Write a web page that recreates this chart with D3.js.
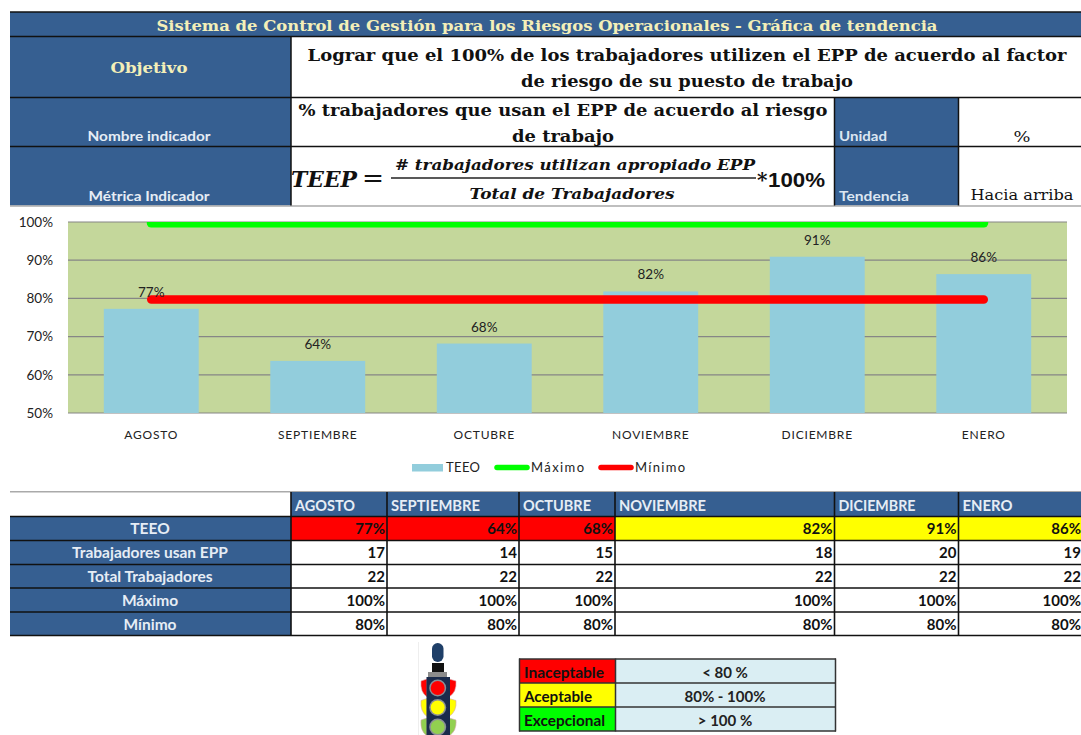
<!DOCTYPE html>
<html><head><meta charset="utf-8">
<script src="https://cdnjs.cloudflare.com/ajax/libs/d3/7.8.5/d3.min.js"></script>
<style>html,body{margin:0;padding:0;background:#fff;overflow:hidden}svg{display:block}</style>
</head><body><div id="c"></div>
<script>
// ---- data ----
const months = ["AGOSTO","SEPTIEMBRE","OCTUBRE","NOVIEMBRE","DICIEMBRE","ENERO"];
const teeo = [0.7727,0.6364,0.6818,0.8182,0.9091,0.8636];
const usan = [17,14,15,18,20,19];
const total = [22,22,22,22,22,22];
const maximo = [1,1,1,1,1,1];
const minimo = [0.8,0.8,0.8,0.8,0.8,0.8];
const yTicks = [0.5,0.6,0.7,0.8,0.9,1];
const rowLabels = ["TEEO","Trabajadores usan EPP","Total Trabajadores","Máximo","Mínimo"];
const legendItems = ["TEEO","Máximo","Mínimo"];
const scaleLabels = ["Inaceptable","Aceptable","Excepcional"];
const scaleRanges = ["< 80 %","80% - 100%","> 100 %"];
const titleText = "Sistema de Control de Gestión para los Riesgos Operacionales - Gráfica de tendencia";

// ---- styles ----
const BLUE="#365f91", CREAM="#f4efb8", SERIF="'DejaVu Serif',serif", SANS="Lato,'Open Sans',sans-serif";
const svg=d3.select("#c").append("svg").attr("width",1081).attr("height",735);
const pct=d3.format(".0%");

function T(x,y,s,o={}){
  const t=svg.append("text").attr("x",x).attr("y",y).text(s)
   .attr("font-family",o.f||SANS).attr("font-size",o.s||14)
   .attr("font-weight",o.w||"normal").attr("fill",o.c||"#111")
   .attr("text-anchor",o.a||"middle");
  if(o.i)t.attr("font-style","italic");
  if(o.L)t.attr("textLength",o.L).attr("lengthAdjust",o.adj||"spacingAndGlyphs");
  return t;
}
function R(x0,y0,x1,y1,fill){return svg.append("rect").attr("x",x0).attr("y",y0).attr("width",x1-x0).attr("height",y1-y0).attr("fill",fill);}
function HL(x0,x1,y,c="#111",w=1.5){svg.append("line").attr("x1",x0).attr("x2",x1).attr("y1",y).attr("y2",y).attr("stroke",c).attr("stroke-width",w);}
function VL(x,y0,y1,c="#111",w=1.5){svg.append("line").attr("x1",x).attr("x2",x).attr("y1",y0).attr("y2",y1).attr("stroke",c).attr("stroke-width",w);}

// ---- header block ----
R(10,12,1081,36.5,BLUE);
R(10,36.5,291,205.5,BLUE);
R(834,97.5,958,205.5,BLUE);
HL(10,1081,12);HL(10,1081,36.5);HL(10,1081,97.5);HL(10,1081,146.5);
HL(10,1081,206,"#aaa",1.5);
VL(291,36.5,205.5);VL(834.5,97.5,205.5);VL(958.5,97.5,205.5);
T(547,31,titleText,{f:SERIF,s:14,w:"bold",c:CREAM,L:781});
T(149,73,"Objetivo",{f:SERIF,s:14,w:"bold",c:CREAM,L:77});
T(687,61,"Lograr que el 100% de los trabajadores utilizen el EPP de acuerdo al factor",{f:SERIF,s:17,w:"bold",L:759});
T(687,87,"de riesgo de su puesto de trabajo",{f:SERIF,s:17,w:"bold",L:332});
T(563,116,"% trabajadores que usan el EPP de acuerdo al riesgo",{f:SERIF,s:17,w:"bold",L:529});
T(563,142,"de trabajo",{f:SERIF,s:17,w:"bold",L:102});
T(149,141,"Nombre indicador",{s:14,w:"bold",c:"#e6edf5",L:123});
T(149,201,"Métrica Indicador",{s:14,w:"bold",c:"#e6edf5",L:121});
T(839,141,"Unidad",{s:14,w:"bold",c:"#dce6f1",a:"start",L:48});
T(839,201,"Tendencia",{s:14,w:"bold",c:"#dce6f1",a:"start",L:70});
T(1022,142,"%",{f:SERIF,s:15,L:17});
T(1022,200,"Hacia arriba",{f:SERIF,s:15,L:103});
T(291,187,"TEEP",{f:SERIF,s:23,w:"bold",i:1,a:"start",L:66});
T(373,187,"=",{f:SERIF,s:26,L:22});
T(575,170,"# trabajadores utilizan apropiado EPP",{f:SERIF,s:14,w:"bold",i:1,L:360});
HL(391,756,178,"#222",1.5);
T(572,199,"Total de Trabajadores",{f:SERIF,s:14,w:"bold",i:1,L:205});
T(757,187,"*",{f:SERIF,s:20,w:"bold",a:"start"});
T(768,187,"100%",{f:"'Liberation Sans',sans-serif",s:21,w:"bold",a:"start",L:57});

// ---- chart ----
const x=d3.scaleBand().domain(months).range([68,1067]).paddingInner(0.43).paddingOuter(0.215);
const y=d3.scaleLinear().domain([0.5,1]).range([413,222]);
const g=svg.append("g");
g.append("rect").attr("x",68).attr("y",y(1)).attr("width",999).attr("height",y(.5)-y(1)).attr("fill","#c4d79b");
g.selectAll("line.grid").data(yTicks).join("line").attr("class","grid")
 .attr("x1",68).attr("x2",1067).attr("y1",d=>y(d)).attr("y2",d=>y(d))
 .attr("stroke","#868686").attr("stroke-width",1.2);
g.selectAll("rect.bar").data(teeo).join("rect").attr("class","bar")
 .attr("x",(d,i)=>x(months[i])).attr("width",x.bandwidth())
 .attr("y",d=>y(d)).attr("height",d=>y(.5)-y(d)).attr("fill","#92cddc");
svg.append("clipPath").attr("id","pc").append("rect").attr("x",0).attr("y",y(1)).attr("width",1081).attr("height",300);
const cx=m=>x(m)+x.bandwidth()/2;
const lineGen=d3.line().x((d,i)=>cx(months[i])).y(d=>y(d));
g.append("g").attr("clip-path","url(#pc)").append("path").attr("d",lineGen(maximo)).attr("fill","none").attr("stroke","#00ff00").attr("stroke-width",9).attr("stroke-linecap","round").attr("transform","translate(0,1)");
g.append("path").attr("d",lineGen(minimo)).attr("fill","none").attr("stroke","#ff0000").attr("stroke-width",8.5).attr("stroke-linecap","round").attr("transform","translate(0,1)");
g.selectAll("text.lab").data(teeo).join("text").attr("class","lab")
 .attr("x",(d,i)=>cx(months[i])).attr("y",d=>y(d)-12).attr("text-anchor","middle")
 .attr("font-family",SANS).attr("font-size",13.5).attr("fill","#222").text(d=>pct(d));
const yAxis=d3.axisLeft(y).tickValues(yTicks).tickFormat(pct).tickSize(0).tickPadding(15);
const ya=svg.append("g").attr("transform","translate(68,0)").call(yAxis);
ya.select(".domain").remove();
ya.selectAll("text").attr("font-family",SANS).attr("font-size",13.5).attr("fill","#222");
const xAxis=d3.axisBottom(x).tickSize(0).tickPadding(17);
const xa=svg.append("g").attr("transform","translate(0,413)").call(xAxis);
xa.select(".domain").remove();
xa.selectAll("text").attr("font-family",SANS).attr("font-size",12).attr("fill","#222").attr("letter-spacing",0.8);

// chart legend
const legendX=d3.scaleOrdinal().domain(legendItems).range([412,497,601]);
const legendC=d3.scaleOrdinal().domain(legendItems).range(["#92cddc","#00ff00","#ff0000"]);
legendItems.forEach((n,i)=>{
  const lx=legendX(n);
  if(i===0) R(lx,464,lx+31,471.5,legendC(n));
  else svg.append("line").attr("x1",lx).attr("x2",lx+30).attr("y1",467.5).attr("y2",467.5).attr("stroke",legendC(n)).attr("stroke-width",5.5).attr("stroke-linecap","round");
  T(lx+(i===0?34:34),472,n,{a:"start",s:13,c:"#222",L:i===0?34:i===1?53:50,adj:"spacing"});
});

// ---- data table ----
const colX=[291,387,519,615,834.5,958.5,1081];
const rowY=[492,516.5,540.5,564.5,588,612,635.5];
R(10,491,1081,492.5,"#aaa");
R(291,492,1081,rowY[1],BLUE);
R(10,rowY[1],291,rowY[6],BLUE);
const rows=[teeo.map(pct),usan.map(String),total.map(String),maximo.map(pct),minimo.map(pct)];
teeo.forEach((v,i)=>R(colX[i],rowY[1],colX[i+1],rowY[2],v<0.8?"#ff0000":"#ffff00"));
rowY.slice(1).forEach(v=>HL(10,1081,v,"#111",1.6));
colX.slice(0,6).forEach(v=>VL(v,492,636,"#111",1.6));
months.forEach((m,i)=>T(colX[i]+4,511,m,{a:"start",s:15,w:"bold",c:"#e6edf5",L:[60,89,68,87,77,50][i]}));
rowLabels.forEach((l,r)=>{
  T(150,rowY[r+1]+17.5,l,{s:15.5,w:"bold",c:"#e6edf5"});
  rows[r].forEach((s,i)=>T(i===5?1081:colX[i+1]-2,rowY[r+1]+17.5,s,{a:"end",s:15,w:"bold",c:"#111"}));
});

// ---- traffic light ----
const lightColors=["#ff0000","#ffff00","#92d050"];
const lightY=d3.scaleOrdinal().domain(lightColors).range([688,707.5,727]);
R(418,642,419,735,"#eeeeee");
svg.append("rect").attr("x",432).attr("y",643).attr("width",11.5).attr("height",19).attr("rx",5.7).attr("fill","#1f3f68");
R(432,663,444,672,"#111");
R(428,672,447,678,"#8c8c8c");
lightColors.forEach(c=>{
  const ly=lightY(c);
  svg.append("path").attr("d",`M427 ${ly-9} L421 ${ly-7} Q420 ${ly+4} 427 ${ly+9} Z`).attr("fill",c).attr("stroke","#d8a8b0").attr("stroke-width",.6);
  svg.append("path").attr("d",`M449 ${ly-9} L456 ${ly-7} Q457 ${ly+4} 449 ${ly+9} Z`).attr("fill",c).attr("stroke","#d8a8b0").attr("stroke-width",.6);
});
R(426.5,677,450,735,"#1a2b4c");
lightColors.forEach(c=>{
  const ly=lightY(c);
  svg.append("circle").attr("cx",437.7).attr("cy",ly).attr("r",8.5).attr("fill","#8a8f96");
  svg.append("circle").attr("cx",437.7).attr("cy",ly).attr("r",7).attr("fill",c);
});

// ---- scale table ----
const scaleY=[659,683,707,731];
const scaleFill=["#ff0000","#ffff00","#00ff00"];
scaleLabels.forEach((l,i)=>{
  R(520,scaleY[i],615.5,scaleY[i+1],scaleFill[i]);
  R(615.5,scaleY[i],835,scaleY[i+1],"#daeef3");
  T(524,scaleY[i]+19,l,{a:"start",s:14.5,w:"bold",c:"#111",L:[80,68,81][i]});
  T(725,scaleY[i]+19,scaleRanges[i],{s:15,w:"bold",c:"#222"});
});
scaleY.forEach(v=>HL(519,836,v,"#333",1.5));
[519.5,615.5,835.5].forEach(v=>VL(v,658.5,731.5,"#333",1.5));
</script></body></html>
